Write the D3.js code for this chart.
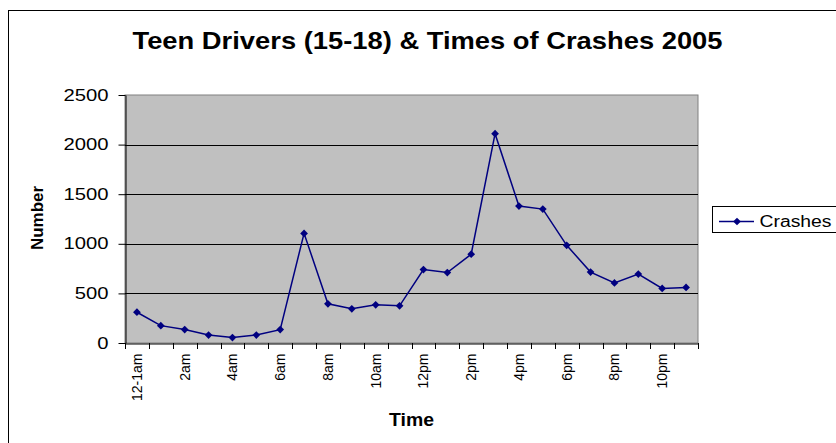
<!DOCTYPE html>
<html><head><meta charset="utf-8">
<script src="https://cdn.jsdelivr.net/npm/d3@7"></script>
<style>body{margin:0;background:#fff}svg{display:block}text{font-family:"Liberation Sans",Arial,sans-serif}</style>
</head><body>
<svg id="c" width="836" height="443"></svg>
<script>
const categories = ["12-1am","1am","2am","3am","4am","5am","6am","7am","8am","9am","10am","11am","12pm","1pm","2pm","3pm","4pm","5pm","6pm","7pm","8pm","9pm","10pm","11pm"];
const tickLabels = ["12-1am","","2am","","4am","","6am","","8am","","10am","","12pm","","2pm","","4pm","","6pm","","8pm","","10pm",""];
const crashes = [310,175,135,80,55,80,135,1105,395,345,385,375,740,710,895,2110,1380,1350,985,715,605,695,550,560];
const yTicks = [0,500,1000,1500,2000,2500];
const seriesName = "Crashes";
const title = "Teen Drivers (15-18) & Times of Crashes 2005";

const svg = d3.select("#c");
const L=125, R=698, T=95, B=343;

// outer chart border
svg.append("rect").attr("x",8.5).attr("y",10.5).attr("width",840).attr("height",450)
  .attr("fill","#fff").attr("stroke","#000").attr("stroke-width",1);

const x = d3.scaleBand().domain(categories).range([L,R]).padding(0);
const y = d3.scaleLinear().domain([0,2500]).range([B,T]);

// plot area
svg.append("rect").attr("x",L).attr("y",T).attr("width",R-L).attr("height",B-T)
  .attr("fill","#c0c0c0").attr("stroke","#808080").attr("stroke-width",1);

// gridlines
svg.append("g").selectAll("line").data(yTicks.filter(d=>d>0 && d<2500)).join("line")
  .attr("x1",L).attr("x2",R).attr("y1",d=>Math.round(y(d))+0.5).attr("y2",d=>Math.round(y(d))+0.5)
  .attr("stroke","#000").attr("stroke-width",1);

// y axis
const yAxis = svg.append("g").attr("transform",`translate(${L+0.5},0)`)
  .call(d3.axisLeft(y).tickValues(yTicks).tickFormat(d3.format("d")).tickSize(7).tickSizeOuter(0).tickPadding(10));
yAxis.select(".domain").attr("stroke","#000");
yAxis.selectAll(".tick line").attr("stroke","#000");
yAxis.selectAll(".tick text").attr("font-size",16).attr("fill","#000")
  .attr("font-family","Liberation Sans, Arial, sans-serif")
  .attr("textLength",function(d){return String(d).length*11.25;}).attr("lengthAdjust","spacingAndGlyphs");

// x axis
const xAxis = svg.append("g").attr("transform",`translate(0,${B+0.5})`)
  .call(d3.axisBottom(x).tickSize(0).tickFormat((d,i)=>tickLabels[i]));
xAxis.select(".domain").attr("stroke","#000");
xAxis.selectAll(".tick text").attr("font-size",14).attr("fill","#000")
  .attr("font-family","Liberation Sans, Arial, sans-serif")
  .attr("transform","rotate(-90)").attr("text-anchor","end")
  .attr("x",-10).attr("y",0).attr("dy","0.36em");
// boundary ticks
const bounds = categories.map(c=>x(c)).concat([R]);
svg.append("g").selectAll("line").data(bounds).join("line")
  .attr("x1",d=>Math.round(d)+0.5).attr("x2",d=>Math.round(d)+0.5)
  .attr("y1",B).attr("y2",B+6).attr("stroke","#000");

// line
const cx = d=>x(d)+x.bandwidth()/2;
svg.append("path").datum(crashes)
  .attr("d",d3.line().x((d,i)=>cx(categories[i])).y(d=>y(d)))
  .attr("fill","none").attr("stroke","#000080").attr("stroke-width",1.5);
const sym = d3.symbol().type(d3.symbolSquare).size(30);
svg.append("g").selectAll("path").data(crashes).join("path")
  .attr("d",sym).attr("fill","#000080")
  .attr("transform",(d,i)=>`translate(${cx(categories[i])},${y(d)}) rotate(45)`);

// title
svg.append("text").attr("x",132.5).attr("y",48.5).attr("font-size",24).attr("font-weight","bold")
  .attr("textLength",590).attr("lengthAdjust","spacingAndGlyphs").text(title);

// axis titles
svg.append("text").attr("transform","translate(43,218) rotate(-90)").attr("text-anchor","middle")
  .attr("font-size",17).attr("font-weight","bold").text("Number");
svg.append("text").attr("x",389).attr("y",426).attr("font-size",18).attr("font-weight","bold")
  .attr("textLength",45).attr("lengthAdjust","spacingAndGlyphs").text("Time");

// legend
svg.append("rect").attr("x",712.5).attr("y",206.5).attr("width",130).attr("height",26)
  .attr("fill","#fff").attr("stroke","#000");
svg.append("line").attr("x1",719).attr("x2",754).attr("y1",221.5).attr("y2",221.5)
  .attr("stroke","#000080").attr("stroke-width",1.5);
svg.append("path").attr("d",sym).attr("fill","#000080").attr("transform","translate(737,221.5) rotate(45)");
svg.append("text").attr("x",759.5).attr("y",226.7).attr("font-size",16)
  .attr("textLength",72).attr("lengthAdjust","spacingAndGlyphs").text(seriesName);
</script>
</body></html>
